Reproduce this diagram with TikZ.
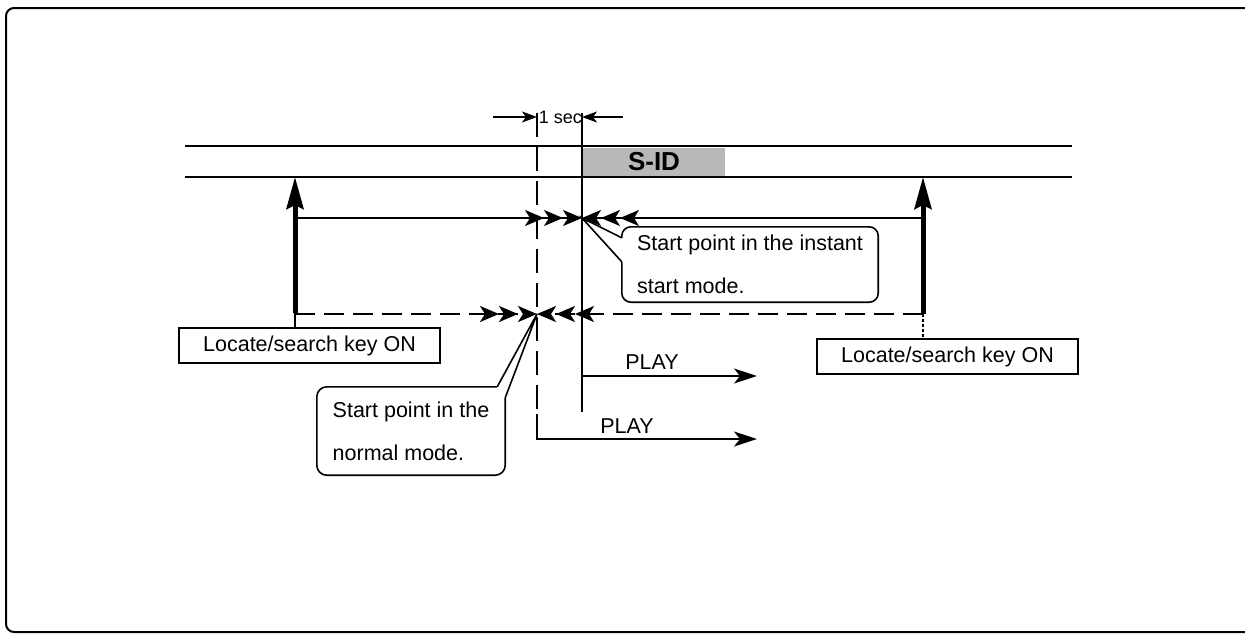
\documentclass[tikz,border=0pt]{standalone}
\usepackage{fontspec}
\setmainfont{Liberation Sans}
\usetikzlibrary{arrows.meta,calc}
\begin{document}
\begin{tikzpicture}[x=1pt,y=-1pt,
  ln/.style={line width=1.6pt},
  lbl/.style={font=\fontsize{21.5}{26}\selectfont, inner sep=0pt},
  keybox/.style={draw, line width=1.6pt, minimum width=261pt, minimum height=35pt, inner sep=0pt, font=\fontsize{21.5}{26}\selectfont},
  callout/.style={align=left, inner sep=0pt, font=\fontsize{21.5}{43}\selectfont},
  triple/.style={-{Stealth[length=19pt,width=16pt,inset=5pt,sep=0pt]Stealth[length=19pt,width=16pt,inset=5pt,sep=0pt]Stealth[length=19pt,width=16pt,inset=5pt,sep=0pt]}},
  bigarrow/.style={line width=5pt, -{Stealth[length=32pt,width=17pt,inset=4pt]}},
  playarrow/.style={line width=1.8pt, -{Stealth[length=23pt,width=15pt,inset=6pt]}},
  secarrow/.style={line width=1.4pt, -{Stealth[length=15pt,width=11pt,inset=4pt]}},
]
\useasboundingbox (0,0) rectangle (1245,643);
% frame
\draw[line width=2pt, rounded corners=8pt] (1245,8) -- (6,8) -- (6,632) -- (1245,632);

% tape lines
\coordinate (L1a) at (185,146); \coordinate (L1b) at (1072,146);
\coordinate (L2a) at (185,177); \coordinate (L2b) at (1072,177);
\draw[ln] (L1a) -- (L1b);
\draw[ln] (L2a) -- (L2b);
\node[fill=black!28, minimum width=142pt, minimum height=28pt, inner sep=0pt,
      font=\bfseries\fontsize{26}{26}\selectfont] (sid) at (654,161.5) {S-ID};

% vertical reference lines
\coordinate (vd0) at (537,113); \coordinate (vd1) at (537,414);
\coordinate (play2) at (757,439);
\coordinate (vs0) at (582,113); \coordinate (vs1) at (582,412);
\coordinate (play1s) at (582,376); \coordinate (play1e) at (757,376);
\draw[ln, dash pattern=on 24pt off 10pt] (vd0) -- (vd1);
\draw[playarrow] (vd1) |- (play2);
\draw[ln] (vs0) -- (vs1);
\draw[playarrow] (play1s) -- (play1e);
\node[lbl] (pl1) at (652,362) {PLAY};
\node[lbl] (pl2) at (627,426) {PLAY};

% 1 sec
\node[font=\fontsize{18}{18}\selectfont, inner sep=0pt] (sec) at (560.5,117) {1 sec};
\coordinate (s1) at (493,117); \coordinate (s2) at (623,117);
\draw[secarrow] (s1) -- (vd0 |- s1);
\draw[secarrow] (s2) -- (vs0 |- s2);

% thick arrows
\coordinate (aL) at (295,313); \coordinate (aR) at (923,314);
\draw[bigarrow] (aL) -- (aL |- L2a);
\draw[bigarrow] (aR) -- (aR |- L2a);

% upper search line (instant start)
\coordinate (uL) at (295,218); \coordinate (uR) at (923,218); \coordinate (uC) at (582,218);
\draw[ln, triple] (uL) -- (uC);
\draw[ln, triple] (uR) -- (uC);

% lower search line (normal)
\coordinate (dL) at (295,314); \coordinate (dR) at (923,314); \coordinate (dC) at (537,314);
\draw[line width=2pt, dash pattern=on 20pt off 9pt, triple] (dL) -- (dC);
\draw[line width=2pt, dash pattern=on 20pt off 9pt, triple] (dR) -- (dC);

% key boxes
\node[keybox] (kL) at (309.5,345.5) {Locate/search key ON};
\node[keybox] (kR) at (947.5,356.5) {Locate/search key ON};
\draw[ln] (aL) -- (aL |- kL.north);
\draw[line width=1.2pt, densely dashed] (aR) -- (aR |- kR.north);

% callout: instant start
\node[callout, minimum width=256pt, minimum height=75pt] (c1) at (750,264.5) {Start point in the instant\\start mode.};
\draw[ln, rounded corners=9pt] ($(c1.north west)+(0,11)$) -- (c1.north west) -- (c1.north east) -- (c1.south east) -- (c1.south west) -- ($(c1.north west)+(0,35)$);
\draw[ln] ($(c1.north west)+(0,11)$) -- (uC) -- ($(c1.north west)+(0,35)$);

% callout: normal mode
\node[callout, minimum width=188pt, minimum height=88pt] (c2) at (411,431) {Start point in the\\normal mode.};
\draw[ln, rounded corners=10pt] ($(c2.north east)+(0,11)$) -- (c2.south east) -- (c2.south west) -- (c2.north west) -- ($(c2.north east)+(-8,0)$);
\draw[ln] ($(c2.north east)+(-8,0)$) -- (dC) -- ($(c2.north east)+(0,11)$);
\end{tikzpicture}
\end{document}
